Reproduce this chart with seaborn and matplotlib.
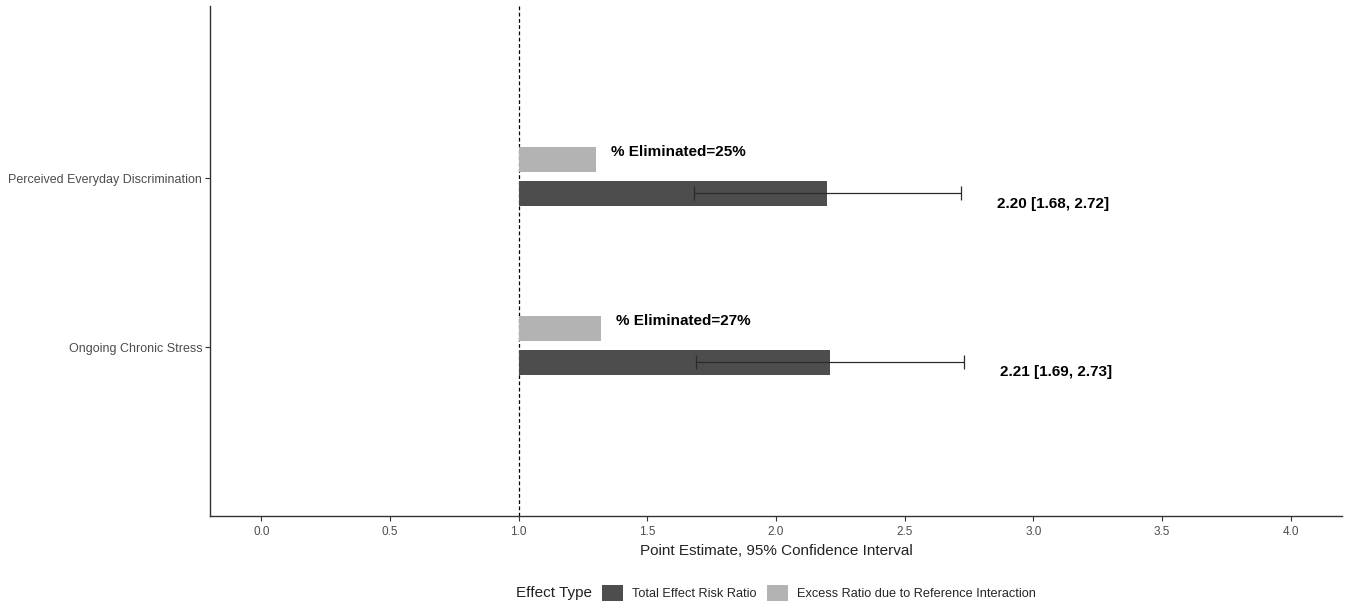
"""
plot.py — interaction / % eliminated bar chart with CIs.
"""

import matplotlib
matplotlib.use("Agg")
import matplotlib.pyplot as plt
from matplotlib.patches import Patch
import seaborn as sns

# ──── data ────
exposures = ["Perceived Everyday Discrimination", "Ongoing Chronic Stress"]
total_rr = [2.20, 2.21]
ci_low = [1.68, 1.69]
ci_high = [2.72, 2.73]
excess_ratio = [1.30, 1.32]   # bar end (bars start at the null value 1.0)
pct_eliminated = [25, 27]
effect_types = ["Total Effect Risk Ratio", "Excess Ratio due to Reference Interaction"]
x_ticks = [0.0, 0.5, 1.0, 1.5, 2.0, 2.5, 3.0, 3.5, 4.0]

# ──── style ────
sns.set_theme(style="ticks")
plt.rcParams["font.family"] = ["Liberation Sans", "DejaVu Sans"]
colors = {effect_types[0]: "#4d4d4d", effect_types[1]: "#b3b3b3"}
TEXT_GREY = "#4d4d4d"

W, H = 1348, 608
fig = plt.figure(figsize=(W / 100, H / 100), dpi=100)
ax = fig.add_axes([210 / W, 1 - 516 / H, (1342 - 210) / W, (516 - 6) / H])

null_value = 1.0
positions = [2, 1]
bar_h = 0.147

for pos, tot, lo, hi, ex, pct in zip(positions, total_rr, ci_low, ci_high,
                                      excess_ratio, pct_eliminated):
    # excess ratio bar (light)
    ax.barh(pos + 0.11, ex - null_value, left=null_value, height=bar_h,
            color=colors[effect_types[1]], edgecolor="none", zorder=2)
    # total effect bar (dark)
    ax.barh(pos - 0.09, tot - null_value, left=null_value, height=bar_h,
            color=colors[effect_types[0]], edgecolor="none", zorder=2)
    ax.errorbar(tot, pos - 0.09, xerr=[[tot - lo], [hi - tot]], fmt="none",
                ecolor="#2b2b2b", elinewidth=0.9, capsize=5, capthick=0.9, zorder=3)
    ax.text(ex + 0.057, pos + 0.155, f"% Eliminated={pct}%", ha="left", va="center",
            fontsize=11, fontweight="bold", color="black")
    ax.text(hi + 0.14, pos - 0.15, f"{tot:.2f} [{lo:.2f}, {hi:.2f}]", ha="left",
            va="center", fontsize=11, fontweight="bold", color="black")

ax.axvline(null_value, color="black", linestyle=(0, (3, 2)), linewidth=0.9, zorder=1)

ax.set_xlim(-0.2, 4.2)
ax.set_ylim(0.0, 3.02)
ax.set_xticks(x_ticks)
ax.set_xticklabels([f"{t:.1f}" for t in x_ticks], fontsize=8.5, color=TEXT_GREY)
ax.set_yticks(positions)
ax.set_yticklabels(exposures, fontsize=9, color=TEXT_GREY)
ax.tick_params(axis="both", length=3.5, width=0.8, color="#333333", pad=4)
ax.tick_params(axis="y", pad=2)
ax.set_xlabel("Point Estimate, 95% Confidence Interval", fontsize=11, color="#222222",
              labelpad=4)
ax.set_ylabel("")
for side in ["left", "bottom"]:
    ax.spines[side].set_color("#333333")
    ax.spines[side].set_linewidth(1.0)
sns.despine(ax=ax)

# ──── legend (title on the left, ggplot style) ────
fig.text(516 / W, 1 - 593 / H, "Effect Type", ha="left", va="center",
         fontsize=11, color="#222222")
handles = [Patch(facecolor=colors[e], edgecolor="none") for e in effect_types]
fig.legend(handles, effect_types, loc="center left", ncol=2,
           bbox_to_anchor=(602 / W, 1 - 593 / H), frameon=False, fontsize=9.2,
           handlelength=1.65, handleheight=1.65, handletextpad=0.7,
           columnspacing=0.85, borderpad=0, borderaxespad=0)

fig.savefig("out.png", dpi=100)
plt.close(fig)
